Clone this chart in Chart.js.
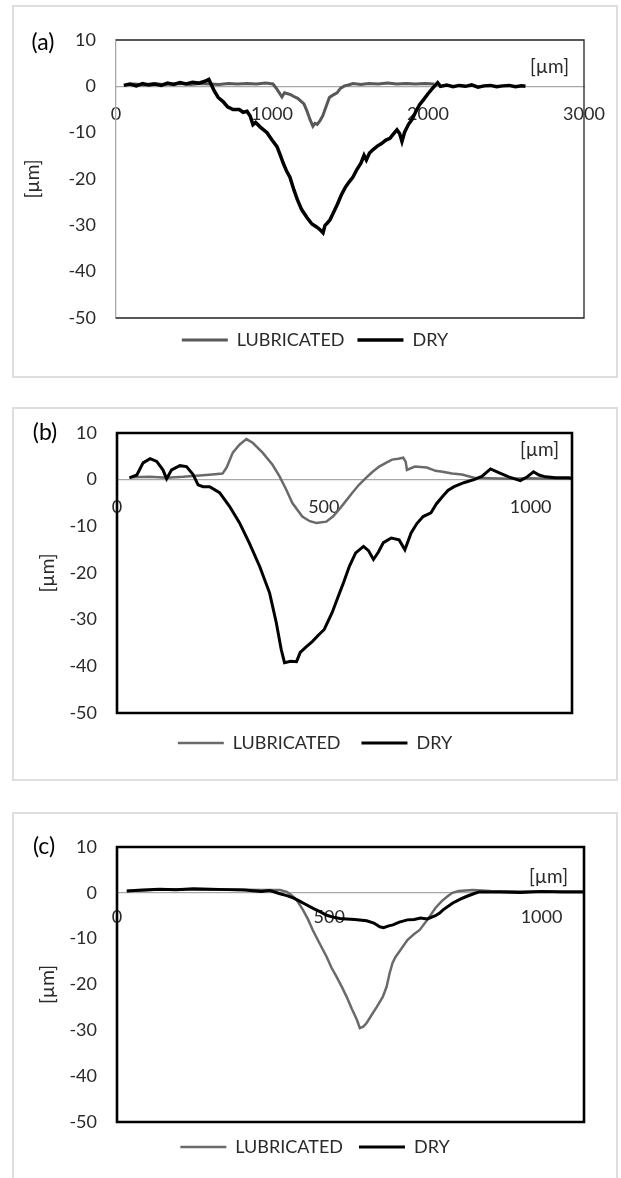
<!DOCTYPE html>
<html><head><meta charset="utf-8">
<script src="https://cdn.jsdelivr.net/npm/chart.js@4.4.1/dist/chart.umd.min.js"></script>
<style>
html,body{margin:0;padding:0;background:#fff;width:621px;height:1178px;overflow:hidden;position:relative;}
.box{position:absolute;left:12px;width:606px;border:2px solid #dedede;box-sizing:border-box;}
canvas{position:absolute;left:14px;}
</style></head><body>
<div class="box" style="top:5px;height:373px"></div>
<div class="box" style="top:407px;height:374px"></div>
<div class="box" style="top:812px;height:380px"></div>
<canvas id="ca" width="602" height="369" style="top:7px"></canvas>
<canvas id="cb" width="602" height="370" style="top:409px"></canvas>
<canvas id="cc" width="602" height="370" style="top:814px"></canvas>
<script>
// ---------- data ----------
const SERIES = ['LUBRICATED', 'DRY'];
const PANELS = ['(a)', '(b)', '(c)'];
const UNIT = '[µm]';
const Y_TICKS = [10, 0, -10, -20, -30, -40, -50];
const A_X_TICKS = [0, 1000, 2000, 3000];
const B_X_TICKS = [0, 500, 1000];
const C_X_TICKS = [0, 500, 1000];
const A_X_MAX = 3000, B_X_MAX = 1100, C_X_MAX = 1100;

const A_LUB = [[60,0.4],[120,0.5],[180,0.3],[240,0.6],[300,0.4],[360,0.5],[420,0.6],[480,0.4],[540,0.6],[600,0.5],[660,0.4],[720,0.6],[780,0.5],[840,0.6],[900,0.5],[960,0.7],[1006,0.5],[1025,-0.3],[1045,-1.3],[1064,-2.3],[1080,-1.4],[1100,-1.6],[1120,-1.8],[1140,-2.2],[1165,-2.6],[1185,-3.2],[1205,-3.8],[1225,-5.4],[1244,-7.2],[1262,-8.6],[1275,-8.0],[1290,-8.2],[1308,-7.4],[1325,-6.4],[1340,-5.0],[1355,-3.6],[1368,-2.4],[1390,-1.9],[1417,-1.4],[1440,-0.4],[1465,0.1],[1490,0.3],[1519,0.6],[1570,0.4],[1620,0.6],[1680,0.5],[1740,0.7],[1800,0.5],[1860,0.6],[1920,0.5],[1980,0.6],[2040,0.5]];
const A_DRY = [[50,0.2],[90,0.5],[130,0.1],[170,0.6],[210,0.3],[250,0.5],[290,0.2],[330,0.7],[370,0.4],[410,0.8],[450,0.5],[490,0.9],[530,0.7],[570,1.1],[595,1.5],[612,0.3],[630,-1.0],[655,-2.4],[686,-3.3],[715,-4.4],[750,-5.0],[790,-5.0],[815,-5.6],[840,-5.4],[860,-6.4],[878,-8.3],[895,-7.8],[925,-8.8],[968,-10.0],[1000,-11.6],[1032,-13.0],[1055,-15.0],[1071,-16.5],[1095,-18.4],[1115,-19.6],[1140,-22.3],[1162,-24.4],[1190,-26.6],[1224,-28.3],[1256,-29.7],[1288,-30.4],[1310,-31.0],[1327,-31.6],[1340,-30.0],[1352,-29.6],[1372,-28.8],[1395,-27.2],[1420,-25.4],[1445,-23.4],[1470,-21.8],[1495,-20.6],[1519,-19.6],[1545,-17.9],[1570,-16.6],[1590,-14.9],[1605,-15.9],[1625,-14.4],[1650,-13.6],[1675,-12.9],[1700,-12.4],[1730,-11.6],[1756,-11.2],[1780,-10.2],[1801,-9.4],[1818,-10.2],[1833,-11.9],[1850,-9.9],[1875,-8.2],[1897,-7.2],[1920,-5.6],[1945,-4.0],[1973,-2.8],[2000,-1.6],[2030,-0.4],[2062,0.8],[2080,0.0],[2120,0.3],[2160,-0.1],[2200,0.2],[2240,0.0],[2280,0.3],[2320,-0.2],[2360,0.1],[2400,0.2],[2440,-0.1],[2480,0.1],[2520,0.2],[2560,-0.1],[2600,0.1],[2625,0.0]];

const B_LUB = [[36,0.5],[80,0.6],[120,0.4],[160,0.6],[200,0.9],[230,1.1],[255,1.3],[265,2.6],[280,5.8],[296,7.5],[313,8.7],[328,7.9],[352,5.8],[376,3.2],[393,0.7],[409,-2.1],[424,-5.0],[448,-7.9],[466,-8.9],[482,-9.3],[506,-9.0],[522,-7.9],[537,-6.4],[553,-4.6],[569,-2.8],[585,-1.1],[602,0.4],[618,1.7],[634,2.8],[650,3.6],[665,4.3],[680,4.5],[692,4.7],[698,3.8],[701,2.1],[720,2.8],[749,2.6],[770,1.9],[787,1.7],[810,1.3],[834,1.1],[863,0.4],[900,0.3],[950,0.2],[1000,0.3],[1050,0.2],[1100,0.2]];
const B_DRY = [[30,0.4],[48,1.0],[63,3.6],[80,4.5],[96,3.9],[111,2.1],[120,0.2],[132,2.1],[152,3.0],[168,2.8],[184,1.1],[196,-1.1],[208,-1.5],[224,-1.5],[248,-2.8],[272,-5.7],[296,-9.2],[320,-13.6],[345,-18.6],[369,-24.3],[385,-30.6],[397,-36.4],[405,-39.2],[420,-38.9],[434,-39.0],[443,-37.0],[458,-35.8],[472,-34.7],[486,-33.4],[501,-32.1],[520,-28.5],[535,-25.0],[548,-22.0],[562,-18.5],[577,-15.7],[596,-14.3],[608,-15.2],[620,-17.1],[632,-15.5],[644,-13.5],[663,-12.5],[682,-12.9],[696,-15.0],[711,-11.4],[725,-9.4],[740,-7.9],[759,-7.1],[772,-5.2],[787,-3.6],[800,-2.3],[815,-1.5],[840,-0.6],[863,0.0],[882,0.7],[903,2.3],[923,1.5],[947,0.6],[975,-0.2],[990,0.5],[1007,1.7],[1020,1.0],[1036,0.6],[1060,0.4],[1092,0.4],[1100,0.3]];

const C_LUB = [[23,0.4],[60,0.5],[100,0.7],[150,0.8],[200,0.7],[250,0.8],[300,0.7],[340,0.6],[384,0.6],[400,0.2],[412,-0.6],[423,-1.5],[438,-3.7],[450,-5.8],[461,-8.1],[477,-11.0],[494,-14.0],[505,-16.3],[517,-18.3],[529,-20.4],[541,-22.7],[553,-25.3],[565,-27.7],[572,-29.5],[580,-29.2],[588,-28.4],[600,-26.6],[612,-24.9],[626,-22.7],[635,-20.5],[642,-17.6],[649,-15.3],[656,-14.0],[666,-12.7],[684,-10.3],[700,-9.0],[713,-8.1],[731,-5.9],[750,-3.3],[765,-1.8],[778,-0.8],[790,0.0],[805,0.4],[838,0.6],[880,0.4],[950,0.3],[1000,0.3],[1050,0.3],[1100,0.3]];
const C_DRY = [[23,0.4],[60,0.6],[100,0.8],[140,0.7],[180,0.9],[220,0.8],[260,0.7],[300,0.6],[340,0.3],[360,0.5],[384,-0.2],[400,-0.6],[415,-1.1],[430,-1.8],[446,-2.6],[462,-3.4],[478,-4.1],[494,-4.9],[509,-5.3],[525,-5.6],[540,-5.7],[560,-5.8],[588,-6.1],[605,-6.6],[619,-7.4],[628,-7.6],[640,-7.2],[650,-7.0],[665,-6.4],[684,-5.9],[700,-5.8],[715,-5.5],[731,-5.7],[750,-5.0],[760,-4.4],[768,-3.7],[791,-2.2],[810,-1.3],[823,-0.8],[843,-0.1],[854,0.2],[900,0.2],[950,0.1],[1000,0.3],[1050,0.2],[1100,0.2]];

// ---------- drawing ----------
const FONT = 'Lato, "Open Sans", sans-serif';
Chart.defaults.font.family = FONT;
Chart.defaults.font.size = 18;
Chart.defaults.color = '#2a2a2a';

const framePlugin = {
  id: 'frame',
  afterDatasetsDraw(chart, args, o) {
    const {ctx, chartArea: a} = chart;
    ctx.save();
    ctx.strokeStyle = o.color; ctx.lineWidth = o.width;
    ctx.beginPath();
    if (o.all) { ctx.rect(a.left, a.top, a.right - a.left, a.bottom - a.top); }
    else { ctx.moveTo(a.left, a.top); ctx.lineTo(a.right, a.top); ctx.lineTo(a.right, a.bottom); ctx.lineTo(a.left, a.bottom); }
    ctx.stroke();
    ctx.fillStyle = '#000';
    ctx.font = '23px ' + FONT;
    ctx.textAlign = 'center'; ctx.textBaseline = 'middle';
    ctx.fillText(o.panel, o.panelX, o.panelY);
    ctx.fillStyle = '#2a2a2a';
    ctx.font = '19px ' + FONT;
    ctx.textAlign = 'right';
    ctx.fillText(UNIT, a.right - o.unitRight, chart.scales.y.getPixelForValue(o.unitValue));
    ctx.restore();
  }
};

const pts = arr => arr.map(p => ({x: p[0], y: p[1]}));

function makeChart(id, cfg) {
  return new Chart(document.getElementById(id), {
    type: 'line',
    data: {
      datasets: [
        {label: SERIES[0], data: pts(cfg.lub), borderColor: cfg.lubColor, backgroundColor: cfg.lubColor, borderWidth: cfg.lubWidth, pointRadius: 0, tension: 0, order: 2},
        {label: SERIES[1], data: pts(cfg.dry), borderColor: '#000', backgroundColor: '#000', borderWidth: cfg.dryWidth, pointRadius: 0, tension: 0, order: 1}
      ]
    },
    options: {
      responsive: false, animation: false, devicePixelRatio: 1,
      layout: {padding: {left: 0, right: 0, top: cfg.top, bottom: cfg.bottom}},
      scales: {
        x: {
          type: 'linear', position: {y: 0}, min: 0, max: cfg.xMax,
          afterBuildTicks: s => { s.ticks = cfg.xTicks.map(v => ({value: v})); },
          afterFit: s => { s.paddingLeft = 0; s.paddingRight = cfg.right; },
          grid: {display: false, drawTicks: false},
          border: {display: true, color: '#a8a8a8', width: 1.3},
          ticks: {padding: cfg.xPad, maxRotation: 0, autoSkip: false, callback: v => String(v)}
        },
        y: {
          type: 'linear', position: 'left', min: -50, max: 10,
          afterBuildTicks: s => { s.ticks = Y_TICKS.map(v => ({value: v})); },
          afterFit: s => { s.width = cfg.yW; s.paddingTop = 0; s.paddingBottom = 0; },
          grid: {display: false, drawTicks: false},
          border: {display: true, color: cfg.yBorder, width: 1.3},
          ticks: {padding: 20, callback: v => String(v)},
          title: {display: true, text: UNIT, font: {size: 19}, padding: {top: cfg.titlePad, bottom: 0}}
        }
      },
      plugins: {
        tooltip: {enabled: false},
        legend: {
          position: 'bottom',
          labels: {usePointStyle: true, pointStyle: 'line', pointStyleWidth: 46, padding: cfg.legPad,
                   sort: (a, b) => a.datasetIndex - b.datasetIndex}
        },
        frame: cfg.frame
      }
    },
    plugins: [framePlugin]
  });
}

makeChart('ca', {lub: A_LUB, dry: A_DRY, lubColor: '#595959', lubWidth: 3, dryWidth: 3.5, xMax: A_X_MAX, xTicks: A_X_TICKS,
  top: 33, bottom: 17, right: 32, yW: 102, xPad: 17, titlePad: 7, legPad: 13, yBorder: '#a8a8a8',
  frame: {color: '#222', width: 1.3, all: false, panel: PANELS[0], panelX: 29, panelY: 36, unitRight: 15, unitValue: 4.1}});
makeChart('cb', {lub: B_LUB, dry: B_DRY, lubColor: '#6a6a6a', lubWidth: 2.5, dryWidth: 3, xMax: B_X_MAX, xTicks: B_X_TICKS,
  top: 24, bottom: 17, right: 44, yW: 103, xPad: 17, titlePad: 22, legPad: 21, yBorder: '#000',
  frame: {color: '#000', width: 2.6, all: true, panel: PANELS[1], panelX: 31, panelY: 24, unitRight: 13, unitValue: 6.4}});
makeChart('cc', {lub: C_LUB, dry: C_DRY, lubColor: '#6a6a6a', lubWidth: 2.5, dryWidth: 3, xMax: C_X_MAX, xTicks: C_X_TICKS,
  top: 33, bottom: 18, right: 32, yW: 103, xPad: 14, titlePad: 22, legPad: 16, yBorder: '#000',
  frame: {color: '#000', width: 2.6, all: true, panel: PANELS[2], panelX: 30, panelY: 33, unitRight: 16, unitValue: 3.5}});
</script>
</body></html>
